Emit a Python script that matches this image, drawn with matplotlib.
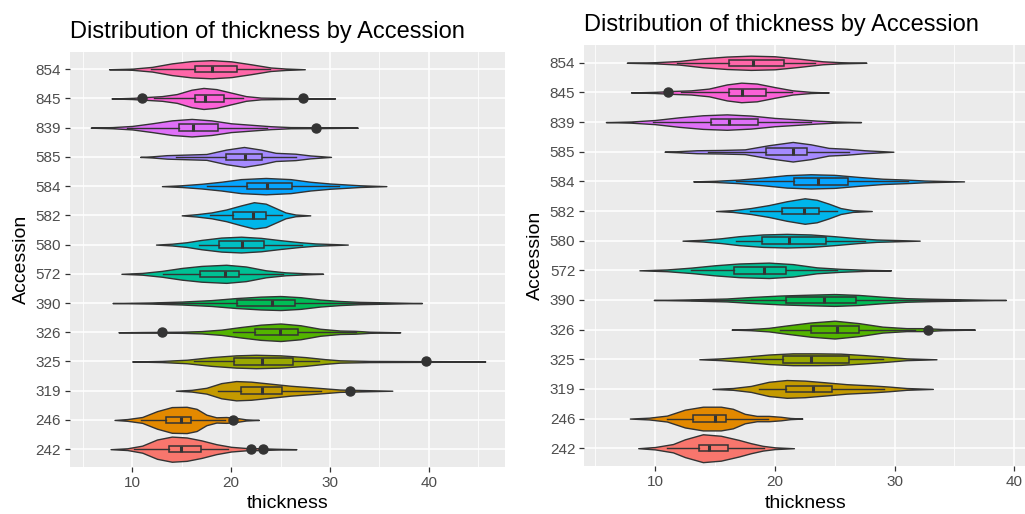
import matplotlib
matplotlib.use("Agg")
import matplotlib.pyplot as plt
import numpy as np

plt.rcParams['font.family'] = ['Liberation Sans', 'DejaVu Sans']

# factor order, bottom to top
accessions = ['242', '246', '319', '325', '326', '390', '572', '580',
              '582', '584', '585', '839', '845', '854']
colors = ['#F8766D', '#E38900', '#C49A00', '#99A800', '#53B400', '#00BC56',
          '#00C094', '#00BFC4', '#00B6EB', '#06A4FF', '#A58AFF', '#DF70F8',
          '#FB61D7', '#FF66A8']

# ---- left panel: box stats
left_q1 = [13.7, 13.4, 21.0, 20.3, 22.4, 20.6, 16.8, 18.8, 20.2, 21.6, 19.5, 14.7, 16.3, 16.3]
left_med = [14.9, 14.9, 23.1, 23.1, 24.9, 24.1, 19.4, 21.1, 22.2, 23.6, 21.4, 16.1, 17.4, 18.05]
left_q3 = [17.0, 15.9, 25.1, 26.3, 26.8, 26.5, 20.8, 23.3, 23.5, 26.2, 23.1, 18.7, 19.3, 20.6]
left_lo = [10.2, 10.9, 18.7, 16.2, 20.2, 12.5, 13.1, 16.7, 17.9, 17.6, 14.4, 9.5, 12.2, 11.9]
left_hi = [19.7, 19.4, 29.1, 28.9, 32.6, 35.0, 25.2, 27.2, 25.1, 30.9, 26.6, 23.6, 21.2, 23.9]
left_out = [[22.0, 23.2], [20.2], [32.0], [39.7], [13.0], [], [], [], [], [], [],
            [28.6], [11.0, 27.3], []]

# left panel: violin outline (thickness, half width in category units)
left_vx = [
    [7.8, 9.5, 11, 12.5, 14, 15.5, 17, 18.5, 20, 21.5, 23, 24.5, 26.6],
    [8.2, 9.5, 11, 12.5, 14, 15.5, 16.5, 17.5, 18.5, 19.5, 20.5, 21.5, 22.8],
    [14.4, 16, 17.5, 19, 20.5, 22, 24, 26, 28, 29.5, 31, 33, 36.3],
    [10, 13, 15.5, 18, 20.5, 22.5, 25, 27.5, 29.5, 31, 34, 38, 42, 45.7],
    [8.6, 11, 13, 15, 17, 19, 21, 23, 25, 27, 29, 31, 32.5, 34, 37.1],
    [8, 12, 15, 18, 20.5, 23, 25, 27, 29, 31, 33, 36, 39.3],
    [8.9, 11, 13, 15, 17, 19.5, 21.5, 23.5, 25.5, 27.5, 29.3],
    [12.4, 14, 15.5, 17, 19, 21, 23, 25, 27, 28.5, 31.8],
    [15, 16.5, 18, 19.5, 21, 22.3, 23.5, 24.5, 25.5, 26.5, 28],
    [13, 15, 17, 19, 21, 23.5, 26, 28, 30, 31.5, 33, 35.7],
    [10.8, 12, 13.5, 15.5, 17.5, 19.5, 21.3, 23, 24.5, 26.5, 28, 30.1],
    [5.8, 8, 10, 12, 14, 16, 18, 20, 22, 24, 26, 29, 32.8],
    [7.9, 10, 11.5, 13, 14.5, 16, 17.2, 18.5, 20, 21.5, 23, 26, 30.5],
    [7.65, 10, 12, 14, 16, 18, 20, 22, 24, 25.5, 27.45],
]
left_vw = [
    [0, 0.03, 0.12, 0.33, 0.43, 0.40, 0.30, 0.17, 0.08, 0.04, 0.03, 0.015, 0],
    [0, 0.03, 0.10, 0.30, 0.44, 0.45, 0.38, 0.18, 0.09, 0.10, 0.07, 0.02, 0],
    [0, 0.03, 0.10, 0.26, 0.33, 0.31, 0.24, 0.17, 0.12, 0.08, 0.04, 0.025, 0],
    [0, 0.02, 0.06, 0.15, 0.21, 0.23, 0.21, 0.15, 0.08, 0.04, 0.02, 0.015, 0.01, 0],
    [0, 0.01, 0.015, 0.02, 0.04, 0.09, 0.18, 0.26, 0.30, 0.24, 0.12, 0.06, 0.05, 0.02, 0],
    [0, 0.02, 0.05, 0.10, 0.17, 0.22, 0.24, 0.20, 0.12, 0.07, 0.04, 0.02, 0],
    [0, 0.03, 0.10, 0.20, 0.27, 0.31, 0.25, 0.12, 0.05, 0.02, 0],
    [0, 0.03, 0.08, 0.16, 0.24, 0.27, 0.23, 0.15, 0.08, 0.04, 0],
    [0, 0.04, 0.10, 0.20, 0.34, 0.45, 0.40, 0.25, 0.10, 0.03, 0],
    [0, 0.03, 0.08, 0.15, 0.24, 0.28, 0.24, 0.15, 0.09, 0.06, 0.03, 0],
    [0, 0.02, 0.06, 0.08, 0.10, 0.25, 0.34, 0.25, 0.14, 0.11, 0.05, 0],
    [0, 0.02, 0.06, 0.15, 0.25, 0.30, 0.25, 0.15, 0.10, 0.05, 0.02, 0.015, 0],
    [0, 0.02, 0.05, 0.08, 0.15, 0.30, 0.36, 0.32, 0.20, 0.08, 0.03, 0.015, 0],
    [0, 0.02, 0.08, 0.20, 0.28, 0.31, 0.27, 0.17, 0.06, 0.025, 0],
]

# ---- right panel: box stats
right_q1 = [13.7, 13.2, 20.9, 20.7, 23.0, 20.9, 16.6, 18.9, 20.6, 21.6, 19.3, 14.7, 16.2, 16.2]
right_med = [14.5, 15.0, 23.2, 23.0, 25.2, 24.1, 19.1, 21.2, 22.4, 23.6, 21.5, 16.2, 17.3, 18.2]
right_q3 = [16.1, 15.9, 24.8, 26.2, 27.0, 26.8, 20.9, 24.3, 23.7, 26.1, 22.7, 18.6, 19.3, 20.8]
right_lo = [11.0, 11.0, 18.7, 18.0, 20.4, 13.0, 13.0, 16.8, 17.9, 16.8, 14.4, 9.8, 12.2, 11.8]
right_hi = [19.1, 19.4, 29.1, 29.0, 31.7, 35.5, 25.2, 27.5, 25.2, 31.1, 26.2, 23.0, 21.4, 23.4]
right_out = [[], [], [], [], [32.8], [], [], [], [], [], [], [], [11.1], []]

right_vx = [
    [8.6, 10, 11.5, 12.5, 14, 15.5, 17, 18, 19, 20, 21.6],
    [7.9, 9.5, 11, 12.5, 14, 15.5, 16.5, 17.5, 18.5, 19.5, 20.5, 21.3, 22.3],
    [14.8, 16.5, 18, 19.5, 21, 22.5, 24, 26, 28, 29.5, 31, 33.2],
    [13.7, 15.5, 17.5, 19.5, 21.5, 23.5, 25.5, 27.5, 29.5, 31, 33.5],
    [16.4, 18, 19.5, 21, 23, 25, 27, 29, 31, 32.5, 34, 36.7],
    [9.9, 13, 16, 18, 20.5, 23, 25, 27, 29, 31, 33, 36, 39.3],
    [8.7, 11, 13, 15, 17, 19.5, 21.5, 23.5, 25.5, 27.5, 29.7],
    [12.3, 14, 15.5, 17, 19, 21, 23, 25, 27, 28.5, 32.1],
    [15.1, 16.5, 18, 19.5, 21, 22.5, 23.5, 24.5, 25.5, 26.5, 28.1],
    [13.2, 15, 17, 19, 21, 23, 25, 27, 29, 31, 32.5, 35.8],
    [10.8, 12, 13.5, 15.5, 17.5, 19.5, 21.5, 23, 24.5, 26, 27.5, 29.9],
    [5.9, 8, 10, 12, 14, 16, 18, 20, 22, 23.5, 25, 27.2],
    [8.0, 10, 11.5, 13, 14.5, 16, 17.2, 18.5, 20, 21.5, 23, 24.5],
    [7.65, 10, 12, 14, 16, 18, 20, 22, 24, 25.5, 27.65],
]
right_vw = [
    [0, 0.04, 0.14, 0.30, 0.47, 0.42, 0.28, 0.17, 0.08, 0.03, 0],
    [0, 0.03, 0.10, 0.30, 0.40, 0.40, 0.33, 0.16, 0.09, 0.09, 0.06, 0.02, 0],
    [0, 0.03, 0.10, 0.24, 0.30, 0.28, 0.23, 0.16, 0.12, 0.08, 0.03, 0],
    [0, 0.03, 0.09, 0.16, 0.20, 0.20, 0.19, 0.14, 0.08, 0.03, 0],
    [0, 0.02, 0.06, 0.14, 0.24, 0.30, 0.22, 0.10, 0.05, 0.05, 0.02, 0],
    [0, 0.02, 0.05, 0.10, 0.15, 0.18, 0.20, 0.17, 0.11, 0.06, 0.04, 0.02, 0],
    [0, 0.03, 0.09, 0.17, 0.23, 0.26, 0.21, 0.10, 0.05, 0.02, 0],
    [0, 0.03, 0.08, 0.15, 0.21, 0.23, 0.21, 0.15, 0.08, 0.04, 0],
    [0, 0.03, 0.10, 0.20, 0.33, 0.43, 0.38, 0.25, 0.10, 0.03, 0],
    [0, 0.02, 0.06, 0.13, 0.21, 0.24, 0.22, 0.15, 0.09, 0.06, 0.03, 0],
    [0, 0.02, 0.05, 0.06, 0.08, 0.22, 0.33, 0.25, 0.13, 0.10, 0.05, 0],
    [0, 0.02, 0.07, 0.16, 0.23, 0.26, 0.22, 0.14, 0.09, 0.05, 0.02, 0],
    [0, 0.02, 0.05, 0.07, 0.13, 0.27, 0.33, 0.30, 0.18, 0.07, 0.02, 0],
    [0, 0.02, 0.06, 0.15, 0.21, 0.24, 0.22, 0.14, 0.05, 0.02, 0],
]

DARK = '#333333'


def draw_panel(ax, q1, med, q3, lo, hi, outs, vx, vw, xlim):
    pos = np.arange(1, len(accessions) + 1)
    ax.set_facecolor('#EBEBEB')
    ax.set_axisbelow(True)

    # violins from the outlines
    vstats = []
    widths = []
    for x, w in zip(vx, vw):
        x = np.array(x, dtype=float)
        w = np.array(w, dtype=float)
        vstats.append(dict(coords=x, vals=w, mean=np.nan, median=np.nan,
                           min=x.min(), max=x.max()))
        widths.append(2 * w.max())
    parts = ax.violin(vstats, positions=pos, orientation='horizontal',
                      widths=widths, showmeans=False, showextrema=False,
                      showmedians=False)
    for body, c in zip(parts['bodies'], colors):
        body.set_facecolor(c)
        body.set_edgecolor(DARK)
        body.set_linewidth(1.0)
        body.set_alpha(1)
        body.set_zorder(2)

    bstats = []
    for i in range(len(accessions)):
        bstats.append(dict(q1=q1[i], med=med[i], q3=q3[i], whislo=lo[i],
                           whishi=hi[i], fliers=outs[i]))
    bp = ax.bxp(bstats, positions=pos, widths=0.22, orientation='horizontal',
                patch_artist=True, showcaps=False,
                boxprops=dict(edgecolor=DARK, linewidth=1.1),
                whiskerprops=dict(color=DARK, linewidth=1.0),
                medianprops=dict(color=DARK, linewidth=2.2),
                flierprops=dict(marker='o', markerfacecolor=DARK,
                                markeredgecolor=DARK, markersize=6.5),
                zorder=3)
    for box, c in zip(bp['boxes'], colors):
        box.set_facecolor(c)

    ax.set_yticks(pos)
    ax.set_yticklabels(accessions)
    ax.set_xticks([10, 20, 30, 40])
    minor = [t for t in [5, 15, 25, 35, 45] if xlim[0] <= t <= xlim[1]]
    ax.set_xticks(minor, minor=True)
    ax.set_xlim(*xlim)
    ax.set_ylim(0.4, len(accessions) + 0.6)
    ax.grid(which='major', color='white', linewidth=1.1)
    ax.grid(which='minor', axis='x', color='white', linewidth=0.55)
    for s in ax.spines.values():
        s.set_visible(False)
    ax.tick_params(which='major', length=3.5, width=0.9, color=DARK,
                   labelcolor='#4D4D4D', labelsize=11, pad=3)
    ax.tick_params(which='minor', length=0)
    ax.set_xlabel('thickness', fontsize=14, labelpad=4)
    ax.set_ylabel('Accession', fontsize=14, labelpad=4)
    ax.set_title('Distribution of thickness by Accession', fontsize=17,
                 loc='left', pad=10)


fig = plt.figure(figsize=(10.25, 5.14), dpi=100)
ax1 = fig.add_axes([70 / 1025, 1 - 466.7 / 514, 435 / 1025, 415 / 514])
ax2 = fig.add_axes([584.3 / 1025, 1 - 466 / 514, 442 / 1025, 421 / 514])

draw_panel(ax1, left_q1, left_med, left_q3, left_lo, left_hi, left_out,
           left_vx, left_vw, (3.7, 47.7))
draw_panel(ax2, right_q1, right_med, right_q3, right_lo, right_hi, right_out,
           right_vx, right_vw, (4.1, 41.0))

fig.savefig('out.png', dpi=100)
